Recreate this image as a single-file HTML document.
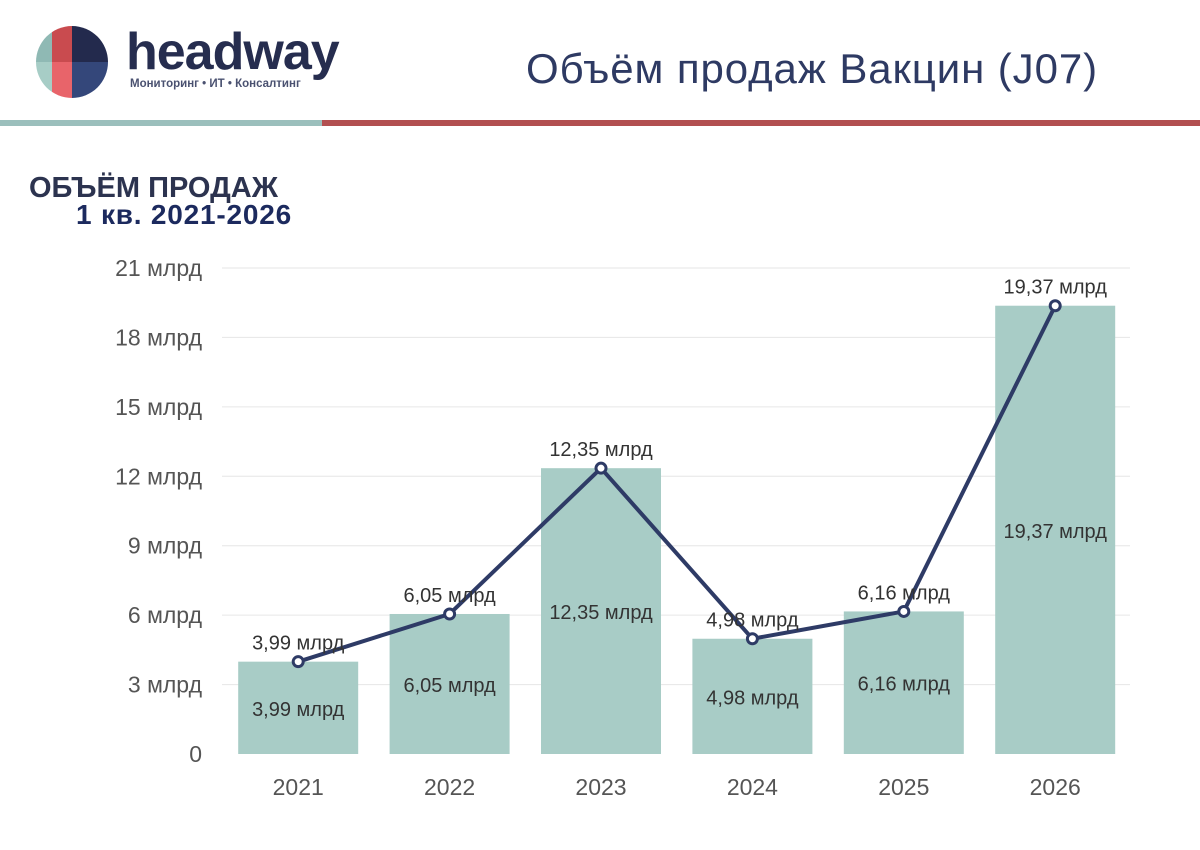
<!DOCTYPE html>
<html><head><meta charset="utf-8"><style>
body{margin:0;width:1200px;height:850px;background:#fff;overflow:hidden;font-family:"Liberation Sans",sans-serif;position:relative}
.abs{position:absolute}
</style></head><body>
<svg class="abs" style="left:36px;top:26px" width="72" height="72">
<defs><clipPath id="c"><circle cx="36" cy="36" r="36"/></clipPath></defs>
<g clip-path="url(#c)">
<rect x="0" y="0" width="16" height="36" fill="#8fb9b4"/><rect x="0" y="36" width="16" height="36" fill="#a7cdc6"/>
<rect x="16" y="0" width="20" height="36" fill="#c94b4f"/><rect x="16" y="36" width="20" height="36" fill="#e8646a"/>
<rect x="36" y="0" width="36" height="36" fill="#232a4d"/><rect x="36" y="36" width="36" height="36" fill="#34477a"/>
</g></svg>
<div class="abs" style="left:126px;top:22px;font-size:52px;font-weight:bold;color:#262d4f;letter-spacing:-1px;line-height:60px">headway</div>
<div class="abs" style="left:130px;top:78px;font-size:11.5px;font-weight:bold;color:#4a5170">Мониторинг • ИТ • Консалтинг</div>
<div class="abs" style="left:526px;top:45px;font-size:42px;letter-spacing:0.9px;color:#2e3a63">Объём продаж Вакцин (J07)</div>
<div class="abs" style="left:0;top:120px;width:322px;height:6px;background:#9bbfbc"></div>
<div class="abs" style="left:322px;top:120px;width:878px;height:6px;background:#b24f50"></div>
<div class="abs" style="left:29px;top:172px;font-size:29px;font-weight:bold;color:#2c334f">ОБЪЁМ ПРОДАЖ</div>
<div class="abs" style="left:76px;top:199px;font-size:28px;letter-spacing:0.8px;font-weight:bold;color:#1c2a5e">1 кв. 2021-2026</div>
<svg class="abs" style="left:0;top:0" width="1200" height="850" id="chart"></svg>
<script>
const categories=["2021","2022","2023","2024","2025","2026"];
const values=[3.99,6.05,12.35,4.98,6.16,19.37];
const valueLabels=["3,99 млрд","6,05 млрд","12,35 млрд","4,98 млрд","6,16 млрд","19,37 млрд"];
const ticks=[0,3,6,9,12,15,18,21];
const tickLabels=["0","3 млрд","6 млрд","9 млрд","12 млрд","15 млрд","18 млрд","21 млрд"];
const svg=document.getElementById('chart');const NS="http://www.w3.org/2000/svg";
const y0=754,yTop=268,maxV=21,left=222.5,band=151.4,barW=120;
const y=v=>y0-(v/maxV)*(y0-yTop);
const xc=i=>left+band*(i+0.5);
function mk(t,a,txt){const e=document.createElementNS(NS,t);for(const k in a)e.setAttribute(k,a[k]);if(txt!==undefined)e.textContent=txt;svg.appendChild(e);return e;}
ticks.forEach((t,i)=>{
 if(t>0){const g=mk('line',{x1:222,x2:1130,y1:y(t),y2:y(t),stroke:'#e6e6e6','stroke-width':1});
 
 }
 const l=mk('text',{x:202,y:y(t)+8,'text-anchor':'end','font-size':23,fill:'#555'},tickLabels[i]);
 
 
});
categories.forEach((c,i)=>{
 const b=mk('rect',{x:xc(i)-barW/2,y:y(values[i]),width:barW,height:y0-y(values[i]),fill:'#a8ccc6'});
 
 
 const il=mk('text',{x:xc(i),y:(y(values[i])+y0)/2+8,'text-anchor':'middle','font-size':20,fill:'#333'},valueLabels[i]);
 
 
 const xl=mk('text',{x:xc(i),y:795,'text-anchor':'middle','font-size':23,fill:'#555'},c);
 
 
});
const pts=values.map((v,i)=>xc(i)+','+y(v)).join(' ');
const pl=mk('polyline',{points:pts,fill:'none',stroke:'#2e3b66','stroke-width':4,'stroke-linejoin':'round'});


values.forEach((v,i)=>{
 const p=mk('circle',{cx:xc(i),cy:y(v),r:5,fill:'#fff',stroke:'#2e3b66','stroke-width':3});
 
 
 const t=mk('text',{x:xc(i),y:y(v)-12,'text-anchor':'middle','font-size':20,fill:'#333'},valueLabels[i]);
 
 
});
</script>
</body></html>
